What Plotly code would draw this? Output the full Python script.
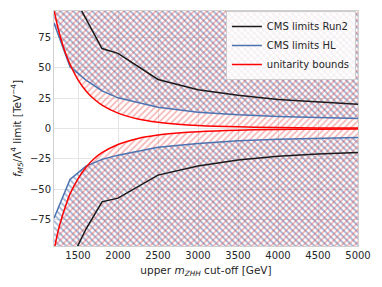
import plotly.graph_objects as go

# ---- data ----
m_run2 = [1400, 1600, 1800, 2000, 2500, 3000, 3500, 4000, 4500, 5000]
run2_up = [115, 90, 66, 62, 40.5, 32, 27.5, 24, 22, 20]
run2_lo = [-110, -83, -60.5, -57.5, -38.5, -31, -26, -23, -21, -19.8]

m_hl = [1200, 1400, 1600, 1800, 2000, 2500, 3000, 3500, 4000, 4500, 5000]
hl_up = [87, 51, 40, 31, 25.3, 17.5, 13.5, 11.3, 10, 9, 8.2]
hl_lo = [-74, -42, -31, -25.5, -22, -15.5, -12.4, -10.2, -8.8, -8, -7.4]

m_unit = [1200, 1250, 1300, 1350, 1400, 1500, 1600, 1700, 1800, 2000, 2250, 2500,
          2750, 3000, 3500, 4000, 4500, 5000]
unit_up = [98, 83, 71, 61, 53, 40.1, 31, 24.3, 19.3, 12.7, 7.9, 5.2,
           3.55, 2.5, 1.35, 0.8, 0.5, 0.32]
unit_lo = [-101, -85, -73, -63, -54, -41.5, -32, -25, -20, -13.2, -8.2, -5.4,
           -3.7, -2.6, -1.4, -0.82, -0.52, -0.34]

x_ticks = [1500, 2000, 2500, 3000, 3500, 4000, 4500, 5000]
y_ticks = [-75, -50, -25, 0, 25, 50, 75]
x_range = [1200, 5000]
y_range = [-97, 97]
far = 140

BLACK = "#1a1a1a"
BLUE = "#4c72b0"
RED = "#ff0000"
HATCH_BLUE = "rgba(76,114,176,1.0)"
HATCH_RED = "rgba(230,60,60,0.8)"
FONT = "DejaVu Sans"

fig = go.Figure()


def hatch(xs, ys, edge, color, shape, spline, solidity):
    # invisible boundary outside the visible range
    fig.add_trace(go.Scatter(x=[xs[0], xs[-1]], y=[edge, edge], mode="lines",
                             line=dict(width=0), showlegend=False, hoverinfo="skip"))
    fig.add_trace(go.Scatter(x=xs, y=ys, mode="lines", fill="tonexty",
                             line=dict(width=0, shape="spline" if spline else "linear"),
                             fillcolor="rgba(0,0,0,0)",
                             fillpattern=dict(shape=shape, fgcolor=color,
                                              bgcolor="rgba(0,0,0,0)", size=4.5,
                                              solidity=solidity),
                             showlegend=False, hoverinfo="skip"))


hatch(m_hl, hl_up, far, HATCH_BLUE, "\\", False, 0.42)
hatch(m_hl, hl_lo, -far, HATCH_BLUE, "\\", False, 0.42)
hatch(m_unit, unit_up, far, HATCH_RED, "/", True, 0.34)
hatch(m_unit, unit_lo, -far, HATCH_RED, "/", True, 0.34)

# lines
fig.add_trace(go.Scatter(x=m_run2, y=run2_up, mode="lines", line=dict(color=BLACK, width=1.5),
                         name="CMS limits Run2", legendgroup="r2"))
fig.add_trace(go.Scatter(x=m_run2, y=run2_lo, mode="lines", line=dict(color=BLACK, width=1.5),
                         showlegend=False, legendgroup="r2"))
fig.add_trace(go.Scatter(x=m_hl, y=hl_up, mode="lines", line=dict(color=BLUE, width=1.5),
                         name="CMS limits HL", legendgroup="hl"))
fig.add_trace(go.Scatter(x=m_hl, y=hl_lo, mode="lines", line=dict(color=BLUE, width=1.5),
                         showlegend=False, legendgroup="hl"))
fig.add_trace(go.Scatter(x=m_unit, y=unit_up, mode="lines",
                         line=dict(color=RED, width=1.5, shape="spline"),
                         name="unitarity bounds", legendgroup="u"))
fig.add_trace(go.Scatter(x=m_unit, y=unit_lo, mode="lines",
                         line=dict(color=RED, width=1.5, shape="spline"),
                         showlegend=False, legendgroup="u"))

fig.update_layout(
    width=382, height=287,
    margin=dict(l=54, r=24, t=11, b=41),
    paper_bgcolor="white", plot_bgcolor="white",
    font=dict(family=FONT, size=10, color="#262626"),
    showlegend=True,
    legend=dict(x=0.993, y=1.0, xanchor="right", yanchor="top",
                bgcolor="rgba(255,255,255,0.85)", bordercolor="#cccccc", borderwidth=1,
                font=dict(size=10, family=FONT, color="#262626"),
                tracegroupgap=0, itemwidth=30),
)
fig.update_xaxes(range=x_range, tickvals=x_ticks, showgrid=True, gridcolor="#e5e5e5",
                 zeroline=False, showline=True, linecolor="#d0d0d0", mirror=True,
                 ticks="", title=dict(text="upper <i>m</i><sub><i>ZHH</i></sub> cut-off [GeV]",
                                      font=dict(size=10.5), standoff=6))
fig.update_yaxes(range=y_range, tickvals=y_ticks, showgrid=True, gridcolor="#e5e5e5",
                 zeroline=False, showline=True, linecolor="#d0d0d0", mirror=True,
                 ticks="", title=dict(text="<i>f</i><sub><i>M5</i></sub>/Λ<sup>4</sup> limit [TeV<sup>−4</sup>]",
                                      font=dict(size=10.5), standoff=6))

fig.write_html("out.html", config={"displayModeBar": False},
               post_script="document.body.style.margin='0';document.body.style.overflow='hidden';")
